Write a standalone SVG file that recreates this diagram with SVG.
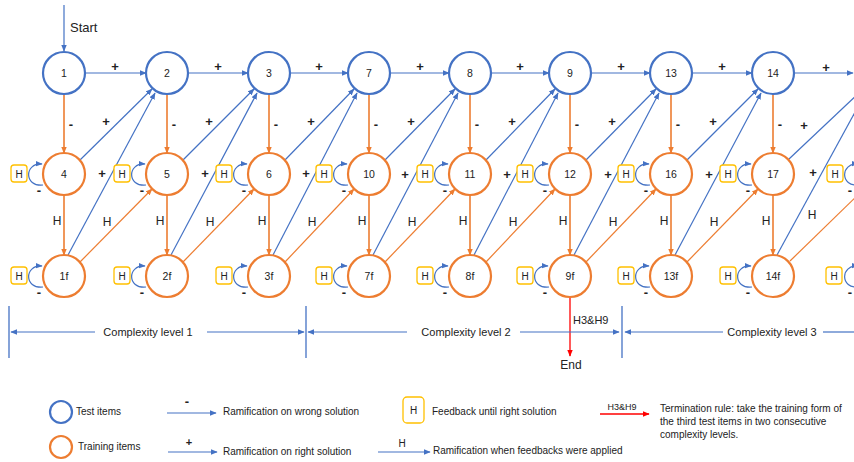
<svg xmlns="http://www.w3.org/2000/svg" width="854" height="462" viewBox="0 0 854 462">
<style>
text{font-family:"Liberation Sans",Arial,sans-serif;fill:#222;}
.tn{fill:#fff;stroke:#4472C4;stroke-width:2.2;}
.rn{fill:#fff;stroke:#ED7D31;stroke-width:2.2;}
.nl{font-size:10.5px;text-anchor:middle;dominant-baseline:central;}
.b{fill:none;stroke:#4472C4;stroke-width:1.2;marker-end:url(#ab);}
.bn{fill:none;stroke:#4472C4;stroke-width:1.2;}
.o{fill:none;stroke:#ED7D31;stroke-width:1.2;marker-end:url(#ao);}
.ov{fill:none;stroke:#ED7D31;stroke-width:1.6;marker-end:url(#ao);}
.r{fill:none;stroke:#FF0000;stroke-width:1.3;marker-end:url(#ar);}
.lp{fill:none;stroke:#4472C4;stroke-width:1.2;marker-end:url(#ab);}
.hb{fill:#fff;stroke:#FFC000;stroke-width:1.3;}
.hbt{font-size:10px;text-anchor:middle;dominant-baseline:central;}
.pm{font-size:13px;font-weight:bold;text-anchor:middle;dominant-baseline:central;}
.hl{font-size:12px;text-anchor:middle;dominant-baseline:central;}
.tk{stroke:#4472C4;stroke-width:1.3;}
.cl{font-size:11px;text-anchor:middle;dominant-baseline:central;}
.lg{font-size:10px;dominant-baseline:central;}
</style>
<defs>
<marker id="ab" viewBox="0 0 10 10" refX="9" refY="5" markerWidth="7" markerHeight="7" markerUnits="userSpaceOnUse" orient="auto"><path d="M0,1 L10,5 L0,9z" fill="#4472C4"/></marker>
<marker id="ao" viewBox="0 0 10 10" refX="9" refY="5" markerWidth="7" markerHeight="7" markerUnits="userSpaceOnUse" orient="auto"><path d="M0,1 L10,5 L0,9z" fill="#ED7D31"/></marker>
<marker id="ar" viewBox="0 0 10 10" refX="9" refY="5" markerWidth="7" markerHeight="7" markerUnits="userSpaceOnUse" orient="auto"><path d="M0,1 L10,5 L0,9z" fill="#FF0000"/></marker>
</defs>

<g id="connectors">
<line class="b" x1="64" y1="5" x2="64" y2="51"/>
<line class="b" x1="85" y1="73" x2="146" y2="73"/>
<line class="b" x1="188" y1="73" x2="248" y2="73"/>
<line class="b" x1="290" y1="73" x2="348" y2="73"/>
<line class="b" x1="390" y1="73" x2="449" y2="73"/>
<line class="b" x1="491" y1="73" x2="549" y2="73"/>
<line class="b" x1="591" y1="73" x2="650" y2="73"/>
<line class="b" x1="692" y1="73" x2="752" y2="73"/>
<line class="b" x1="794" y1="73" x2="853" y2="73"/>
<line class="b" x1="80" y1="160" x2="152" y2="89"/>
<line class="b" x1="183" y1="160" x2="254" y2="89"/>
<line class="b" x1="285" y1="160" x2="354" y2="89"/>
<line class="b" x1="385" y1="160" x2="455" y2="89"/>
<line class="b" x1="486" y1="160" x2="555" y2="89"/>
<line class="b" x1="586" y1="160" x2="656" y2="89"/>
<line class="b" x1="687" y1="160" x2="758" y2="89"/>
<line class="bn" x1="789" y1="159" x2="862" y2="90"/>
<line class="b" x1="68" y1="255" x2="155" y2="93"/>
<line class="b" x1="171" y1="255" x2="257" y2="93"/>
<line class="b" x1="273" y1="255" x2="357" y2="93"/>
<line class="b" x1="373" y1="255" x2="458" y2="93"/>
<line class="b" x1="474" y1="255" x2="558" y2="93"/>
<line class="b" x1="574" y1="255" x2="659" y2="93"/>
<line class="b" x1="675" y1="255" x2="761" y2="93"/>
<line class="bn" x1="777" y1="255" x2="866" y2="92"/>
<line class="o" x1="80" y1="262" x2="152" y2="189"/>
<line class="o" x1="183" y1="262" x2="254" y2="189"/>
<line class="o" x1="285" y1="262" x2="354" y2="189"/>
<line class="o" x1="385" y1="262" x2="455" y2="189"/>
<line class="o" x1="486" y1="262" x2="555" y2="189"/>
<line class="o" x1="586" y1="262" x2="656" y2="189"/>
<line class="o" x1="687" y1="262" x2="758" y2="189"/>
<line style="fill:none;stroke:#ED7D31;stroke-width:1.2" x1="790" y1="261" x2="862" y2="191"/>
<line class="ov" x1="64" y1="94" x2="64" y2="153"/>
<line class="ov" x1="167" y1="94" x2="167" y2="153"/>
<line class="ov" x1="269" y1="94" x2="269" y2="153"/>
<line class="ov" x1="369" y1="94" x2="369" y2="153"/>
<line class="ov" x1="470" y1="94" x2="470" y2="153"/>
<line class="ov" x1="570" y1="94" x2="570" y2="153"/>
<line class="ov" x1="671" y1="94" x2="671" y2="153"/>
<line class="ov" x1="773" y1="94" x2="773" y2="153"/>
<line class="ov" x1="64" y1="195" x2="64" y2="255"/>
<line class="ov" x1="167" y1="195" x2="167" y2="255"/>
<line class="ov" x1="269" y1="195" x2="269" y2="255"/>
<line class="ov" x1="369" y1="195" x2="369" y2="255"/>
<line class="ov" x1="470" y1="195" x2="470" y2="255"/>
<line class="ov" x1="570" y1="195" x2="570" y2="255"/>
<line class="ov" x1="671" y1="195" x2="671" y2="255"/>
<line class="ov" x1="773" y1="195" x2="773" y2="255"/>
<path class="lp" d="M43,185 C24,187 24,163 42,164"/>
<path class="lp" d="M146,185 C127,187 127,163 145,164"/>
<path class="lp" d="M248,185 C229,187 229,163 247,164"/>
<path class="lp" d="M348,185 C329,187 329,163 347,164"/>
<path class="lp" d="M449,185 C430,187 430,163 448,164"/>
<path class="lp" d="M549,185 C530,187 530,163 548,164"/>
<path class="lp" d="M650,185 C631,187 631,163 649,164"/>
<path class="lp" d="M752,185 C733,187 733,163 751,164"/>
<path class="lp" d="M859,185 C840,187 840,163 858,164"/>
<path class="lp" d="M43,287 C24,289 24,265 42,266"/>
<path class="lp" d="M146,287 C127,289 127,265 145,266"/>
<path class="lp" d="M248,287 C229,289 229,265 247,266"/>
<path class="lp" d="M348,287 C329,289 329,265 347,266"/>
<path class="lp" d="M449,287 C430,289 430,265 448,266"/>
<path class="lp" d="M549,287 C530,289 530,265 548,266"/>
<path class="lp" d="M650,287 C631,289 631,265 649,266"/>
<path class="lp" d="M752,287 C733,289 733,265 751,266"/>
<path class="lp" d="M859,287 C840,289 840,265 858,266"/>
<line class="r" x1="570" y1="297" x2="570" y2="356"/>
</g>

<g id="connector-labels">
<text x="70" y="27" style="font-size:13px;dominant-baseline:central">Start</text>
<text class="pm" x="115" y="66">+</text>
<text class="pm" x="218" y="66">+</text>
<text class="pm" x="319" y="66">+</text>
<text class="pm" x="420" y="66">+</text>
<text class="pm" x="520" y="66">+</text>
<text class="pm" x="621" y="66">+</text>
<text class="pm" x="722" y="66">+</text>
<text class="pm" x="826" y="67">+</text>
<text class="pm" x="106" y="121">+</text>
<text class="pm" x="209" y="121">+</text>
<text class="pm" x="311" y="121">+</text>
<text class="pm" x="411" y="121">+</text>
<text class="pm" x="512" y="121">+</text>
<text class="pm" x="612" y="121">+</text>
<text class="pm" x="713" y="121">+</text>
<text class="pm" x="804" y="125">+</text>
<text class="pm" x="102" y="173">+</text>
<text class="pm" x="205" y="173">+</text>
<text class="pm" x="306" y="173">+</text>
<text class="pm" x="405" y="174">+</text>
<text class="pm" x="507" y="174">+</text>
<text class="pm" x="608" y="174">+</text>
<text class="pm" x="709" y="174">+</text>
<text class="pm" x="813" y="172">+</text>
<text class="hl" x="107" y="222">H</text>
<text class="hl" x="210" y="222">H</text>
<text class="hl" x="312" y="222">H</text>
<text class="hl" x="412" y="222">H</text>
<text class="hl" x="513" y="222">H</text>
<text class="hl" x="613" y="222">H</text>
<text class="hl" x="714" y="222">H</text>
<text class="hl" x="812" y="215">H</text>
<text class="pm" x="71" y="124">-</text>
<text class="pm" x="174" y="124">-</text>
<text class="pm" x="276" y="124">-</text>
<text class="pm" x="376" y="124">-</text>
<text class="pm" x="477" y="124">-</text>
<text class="pm" x="577" y="124">-</text>
<text class="pm" x="678" y="124">-</text>
<text class="pm" x="780" y="124">-</text>
<text class="hl" x="57" y="221">H</text>
<text class="hl" x="160" y="221">H</text>
<text class="hl" x="262" y="221">H</text>
<text class="hl" x="362" y="221">H</text>
<text class="hl" x="463" y="221">H</text>
<text class="hl" x="563" y="221">H</text>
<text class="hl" x="664" y="221">H</text>
<text class="hl" x="766" y="221">H</text>
<text class="pm" x="39" y="190">-</text>
<text class="pm" x="142" y="190">-</text>
<text class="pm" x="244" y="190">-</text>
<text class="pm" x="344" y="190">-</text>
<text class="pm" x="445" y="190">-</text>
<text class="pm" x="545" y="190">-</text>
<text class="pm" x="646" y="190">-</text>
<text class="pm" x="748" y="190">-</text>
<text class="pm" x="850" y="190">-</text>
<text class="pm" x="39" y="292">-</text>
<text class="pm" x="142" y="292">-</text>
<text class="pm" x="244" y="292">-</text>
<text class="pm" x="344" y="292">-</text>
<text class="pm" x="445" y="292">-</text>
<text class="pm" x="545" y="292">-</text>
<text class="pm" x="646" y="292">-</text>
<text class="pm" x="748" y="292">-</text>
<text class="pm" x="850" y="292">-</text>
<text x="573" y="320" style="font-size:11px;dominant-baseline:central">H3&amp;H9</text>
<text x="571" y="365" style="font-size:12px;text-anchor:middle;dominant-baseline:central">End</text>
</g>

<g id="feedback-boxes">
<g><rect class="hb" x="11" y="165" width="16" height="17" rx="3"/><text class="hbt" x="19" y="174">H</text></g>
<g><rect class="hb" x="114" y="165" width="16" height="17" rx="3"/><text class="hbt" x="122" y="174">H</text></g>
<g><rect class="hb" x="216" y="165" width="16" height="17" rx="3"/><text class="hbt" x="224" y="174">H</text></g>
<g><rect class="hb" x="316" y="165" width="16" height="17" rx="3"/><text class="hbt" x="324" y="174">H</text></g>
<g><rect class="hb" x="417" y="165" width="16" height="17" rx="3"/><text class="hbt" x="425" y="174">H</text></g>
<g><rect class="hb" x="517" y="165" width="16" height="17" rx="3"/><text class="hbt" x="525" y="174">H</text></g>
<g><rect class="hb" x="618" y="165" width="16" height="17" rx="3"/><text class="hbt" x="626" y="174">H</text></g>
<g><rect class="hb" x="720" y="165" width="16" height="17" rx="3"/><text class="hbt" x="728" y="174">H</text></g>
<g><rect class="hb" x="827" y="165" width="16" height="17" rx="3"/><text class="hbt" x="835" y="174">H</text></g>
<g><rect class="hb" x="11" y="267" width="16" height="17" rx="3"/><text class="hbt" x="19" y="276">H</text></g>
<g><rect class="hb" x="114" y="267" width="16" height="17" rx="3"/><text class="hbt" x="122" y="276">H</text></g>
<g><rect class="hb" x="216" y="267" width="16" height="17" rx="3"/><text class="hbt" x="224" y="276">H</text></g>
<g><rect class="hb" x="316" y="267" width="16" height="17" rx="3"/><text class="hbt" x="324" y="276">H</text></g>
<g><rect class="hb" x="417" y="267" width="16" height="17" rx="3"/><text class="hbt" x="425" y="276">H</text></g>
<g><rect class="hb" x="517" y="267" width="16" height="17" rx="3"/><text class="hbt" x="525" y="276">H</text></g>
<g><rect class="hb" x="618" y="267" width="16" height="17" rx="3"/><text class="hbt" x="626" y="276">H</text></g>
<g><rect class="hb" x="720" y="267" width="16" height="17" rx="3"/><text class="hbt" x="728" y="276">H</text></g>
<g><rect class="hb" x="826" y="267" width="16" height="17" rx="3"/><text class="hbt" x="834" y="276">H</text></g>
</g>

<g id="n1"><circle class="tn" cx="64" cy="73" r="21"/><text class="nl" x="64" y="73">1</text></g>
<g id="n2"><circle class="tn" cx="167" cy="73" r="21"/><text class="nl" x="167" y="73">2</text></g>
<g id="n3"><circle class="tn" cx="269" cy="73" r="21"/><text class="nl" x="269" y="73">3</text></g>
<g id="n7"><circle class="tn" cx="369" cy="73" r="21"/><text class="nl" x="369" y="73">7</text></g>
<g id="n8"><circle class="tn" cx="470" cy="73" r="21"/><text class="nl" x="470" y="73">8</text></g>
<g id="n9"><circle class="tn" cx="570" cy="73" r="21"/><text class="nl" x="570" y="73">9</text></g>
<g id="n13"><circle class="tn" cx="671" cy="73" r="21"/><text class="nl" x="671" y="73">13</text></g>
<g id="n14"><circle class="tn" cx="773" cy="73" r="21"/><text class="nl" x="773" y="73">14</text></g>

<g id="n4"><circle class="rn" cx="64" cy="174" r="21"/><text class="nl" x="64" y="174">4</text></g>
<g id="n5"><circle class="rn" cx="167" cy="174" r="21"/><text class="nl" x="167" y="174">5</text></g>
<g id="n6"><circle class="rn" cx="269" cy="174" r="21"/><text class="nl" x="269" y="174">6</text></g>
<g id="n10"><circle class="rn" cx="369" cy="174" r="21"/><text class="nl" x="369" y="174">10</text></g>
<g id="n11"><circle class="rn" cx="470" cy="174" r="21"/><text class="nl" x="470" y="174">11</text></g>
<g id="n12"><circle class="rn" cx="570" cy="174" r="21"/><text class="nl" x="570" y="174">12</text></g>
<g id="n16"><circle class="rn" cx="671" cy="174" r="21"/><text class="nl" x="671" y="174">16</text></g>
<g id="n17"><circle class="rn" cx="773" cy="174" r="21"/><text class="nl" x="773" y="174">17</text></g>

<g id="n1f"><circle class="rn" cx="64" cy="276" r="21"/><text class="nl" x="64" y="276">1f</text></g>
<g id="n2f"><circle class="rn" cx="167" cy="276" r="21"/><text class="nl" x="167" y="276">2f</text></g>
<g id="n3f"><circle class="rn" cx="269" cy="276" r="21"/><text class="nl" x="269" y="276">3f</text></g>
<g id="n7f"><circle class="rn" cx="369" cy="276" r="21"/><text class="nl" x="369" y="276">7f</text></g>
<g id="n8f"><circle class="rn" cx="470" cy="276" r="21"/><text class="nl" x="470" y="276">8f</text></g>
<g id="n9f"><circle class="rn" cx="570" cy="276" r="21"/><text class="nl" x="570" y="276">9f</text></g>
<g id="n13f"><circle class="rn" cx="671" cy="276" r="21"/><text class="nl" x="671" y="276">13f</text></g>
<g id="n14f"><circle class="rn" cx="773" cy="276" r="21"/><text class="nl" x="773" y="276">14f</text></g>

<g id="complexity-levels">
<line class="tk" x1="9" y1="306" x2="9" y2="358"/>
<line class="tk" x1="306" y1="306" x2="306" y2="358"/>
<line class="tk" x1="622" y1="306" x2="622" y2="358"/>
<line class="b" x1="95" y1="332" x2="11" y2="332"/>
<line class="b" x1="207" y1="332" x2="304" y2="332"/>
<text class="cl" x="148" y="332">Complexity level 1</text>
<line class="b" x1="407" y1="332" x2="308" y2="332"/>
<line class="b" x1="520" y1="332" x2="619" y2="332"/>
<text class="cl" x="466" y="332">Complexity level 2</text>
<line class="b" x1="723" y1="332" x2="625" y2="332"/>
<line class="bn" x1="823" y1="332" x2="854" y2="332"/>
<text class="cl" x="772" y="332">Complexity level 3</text>
</g>

<g id="legend">
<circle class="tn" cx="61" cy="412" r="11"/>
<text class="lg" x="76" y="411">Test items</text>
<circle class="rn" cx="61" cy="447" r="11"/>
<text class="lg" x="78" y="446">Training items</text>
<line class="b" x1="167" y1="413" x2="216" y2="413"/>
<text class="pm" x="187" y="401">-</text>
<text class="lg" x="223" y="411">Ramification on wrong solution</text>
<line class="b" x1="168" y1="452" x2="217" y2="452"/>
<text class="pm" x="189" y="442" style="font-size:11px">+</text>
<text class="lg" x="223" y="451">Ramification on right solution</text>
<rect class="hb" x="403" y="397" width="21" height="26" rx="4"/>
<text class="hbt" x="413.5" y="410">H</text>
<text class="lg" x="432" y="411">Feedback until right solution</text>
<line class="b" x1="378" y1="452" x2="430" y2="452"/>
<text class="hbt" x="402" y="443">H</text>
<text class="lg" x="433" y="450">Ramification when feedbacks were applied</text>
<line class="r" x1="600" y1="414" x2="649" y2="414"/>
<text x="622" y="407" style="font-size:9px;text-anchor:middle;dominant-baseline:central">H3&amp;H9</text>
<text class="lg" x="660" y="408">Termination rule: take the training form of</text>
<text class="lg" x="660" y="421">the third test items in two consecutive</text>
<text class="lg" x="660" y="434">complexity levels.</text>
</g>
</svg>
